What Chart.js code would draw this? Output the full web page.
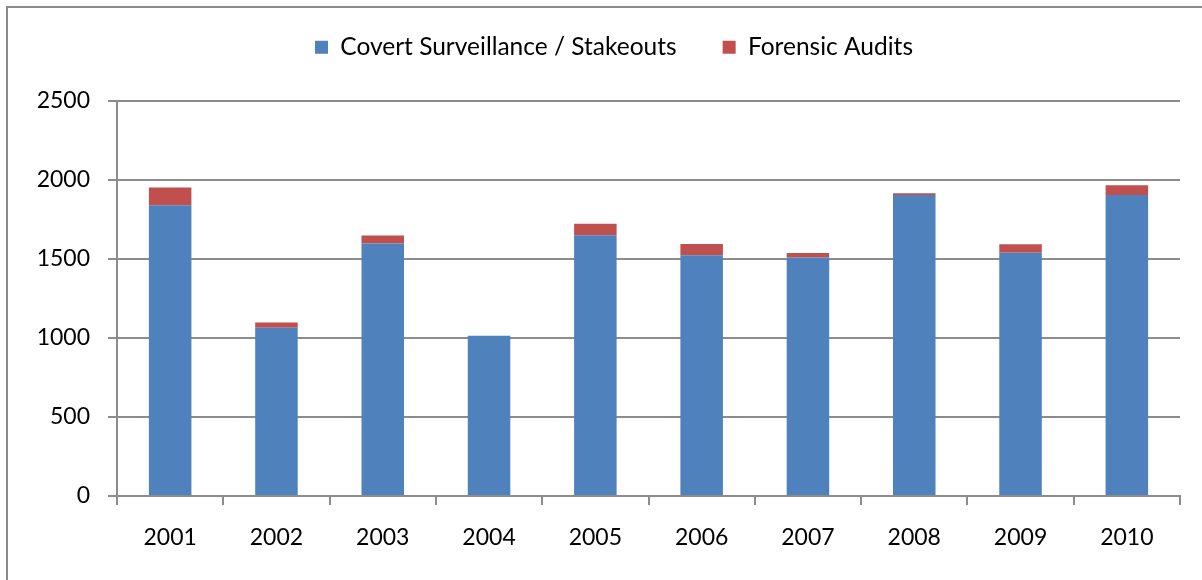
<!DOCTYPE html>
<html>
<head>
<meta charset="utf-8">
<script src="https://cdn.jsdelivr.net/npm/chart.js@4/dist/chart.umd.min.js"></script>
<style>
  html, body { margin: 0; padding: 0; background: #fff; overflow: hidden; }
  #wrap { position: relative; width: 1202px; height: 580px; }
  #frame { position: absolute; left: 6px; top: 6px; width: 1300px; height: 700px; border: 2px solid #8a8a8a; box-sizing: border-box; }
  canvas { position: absolute; left: 0; top: 0; }
</style>
</head>
<body>
<div id="wrap">
  <div id="frame"></div>
  <canvas id="c" width="1202" height="580"></canvas>
</div>
<script>
const categories = ['2001','2002','2003','2004','2005','2006','2007','2008','2009','2010'];
const covertSurveillance = [1840, 1065, 1598, 1015, 1650, 1523, 1510, 1905, 1540, 1905];
const forensicAudits = [112, 33, 50, 0, 73, 72, 28, 11, 53, 61];
const seriesNames = ['Covert Surveillance / Stakeouts', 'Forensic Audits'];
const yTicks = [0, 500, 1000, 1500, 2000, 2500];

const FONT = 'Lato, "Liberation Sans", sans-serif';
const GRID = '#8c8c8c';

const legendLayout = {
  id: 'legendLayout',
  beforeInit(chart) {
    const lg = chart.legend;
    if (lg) {
      const fit = lg.fit;
      lg.fit = function () { fit.call(this); this.height = 112; };
    }
  },
  afterLayout(chart) {
    const lg = chart.legend;
    if (lg) { lg.left += 24; lg.right += 24; }
  }
};

new Chart(document.getElementById('c'), {
  type: 'bar',
  data: {
    labels: categories,
    datasets: [
      { label: seriesNames[0], data: covertSurveillance, backgroundColor: '#4F81BD', borderWidth: 0 },
      { label: seriesNames[1], data: forensicAudits, backgroundColor: '#C0504D', borderWidth: 0 }
    ]
  },
  options: {
    responsive: false,
    animation: false,
    devicePixelRatio: 1,
    layout: { padding: { left: 0, right: 22, top: -11, bottom: 0 } },
    datasets: { bar: { barPercentage: 0.4, categoryPercentage: 1 } },
    plugins: {
      tooltip: { enabled: false },
      legend: {
        position: 'top',
        labels: {
          font: { family: FONT, size: 24.5 },
          color: '#000',
          boxWidth: 13,
          boxHeight: 13,
          padding: 46
        }
      }
    },
    scales: {
      x: {
        stacked: true,
        offset: true,
        grid: { display: true, drawOnChartArea: false, drawTicks: true, tickLength: 9, offset: true, color: GRID, lineWidth: 2 },
        border: { display: true, color: GRID, width: 2 },
        ticks: { font: { family: FONT, size: 23 }, color: '#000', padding: 19 },
        afterFit(s) { s.height = 84; }
      },
      y: {
        stacked: true,
        min: 0,
        max: 2500,
        afterBuildTicks(s) { s.ticks = yTicks.map(v => ({ value: v })); },
        grid: { color: GRID, lineWidth: 2, tickLength: 9, drawTicks: true },
        border: { display: true, color: GRID, width: 2 },
        ticks: { font: { family: FONT, size: 23 }, color: '#000', padding: 18, callback: v => String(v) },
        afterFit(s) { s.width = 117; }
      }
    }
  },
  plugins: [legendLayout]
});
</script>
</body>
</html>
